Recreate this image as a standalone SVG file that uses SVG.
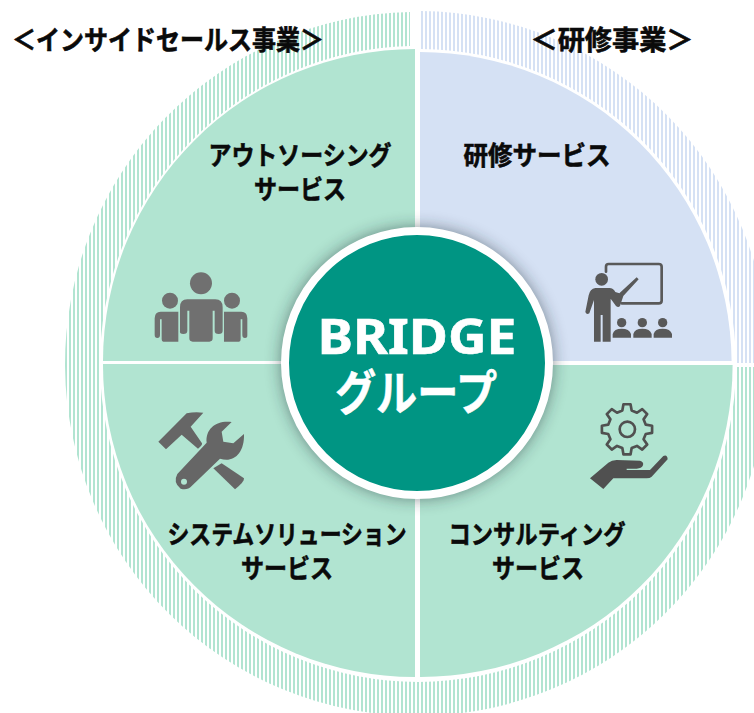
<svg xmlns="http://www.w3.org/2000/svg" width="754" height="713" viewBox="0 0 754 713">
<style>
text{font-family:"Noto Sans CJK JP","Liberation Sans",sans-serif;font-weight:700;fill:#0a0a0a;stroke:#0a0a0a;stroke-width:.6px}
.lbl{font-size:26px;text-anchor:middle}
.ttl{font-size:27px;text-anchor:middle}
.ctr{fill:#fff;stroke:#fff;text-anchor:middle}
.g{fill:#b1e4d1}.b{fill:#d5e1f4}
.ig{fill:url(#hg)}.ib{fill:url(#hb)}
</style>
<defs>
<pattern id="hg" width="4" height="8" patternUnits="userSpaceOnUse" x="1"><rect width="2" height="8" fill="#b1e4d1"/></pattern>
<pattern id="hb" width="4" height="8" patternUnits="userSpaceOnUse" x="1"><rect width="2" height="8" fill="#d5e1f4"/></pattern>
<filter id="sh" x="-20%" y="-20%" width="140%" height="140%"><feGaussianBlur stdDeviation="8"/></filter>
</defs>
<g id="ring">
<path class="ig" d="M410 12A352 352 0 1 0 769 367H736A318 318 0 1 1 410 46Z"/>
<path class="ib" d="M421 11A352 352 0 0 1 769 363H736A317 317 0 0 0 421 49Z"/>
</g>
<g id="node-outsourcing">
<path class="g" d="M415 49A312 312 0 0 0 103 361H415Z"/>
<text class="lbl" x="300" y="165" textLength="183" lengthAdjust="spacingAndGlyphs">アウトソーシング</text>
<text class="lbl" x="300" y="199" textLength="92" lengthAdjust="spacingAndGlyphs">サービス</text>
<g transform="translate(130 250) scale(.3333)" fill="#707070">
<circle cx="213" cy="100" r="33"/>
<circle cx="120" cy="152" r="24"/>
<circle cx="306" cy="152" r="24"/>
<path d="M172 148H256Q278 148 278 172V242Q278 252 266 252T254 242V182H248V265Q248 275 238 275H188Q178 275 178 265V182H172V242Q172 252 160 252T150 242V172Q150 148 172 148Z"/>
<path d="M92 185H145V275H100Q95 275 95 268V208H90V254Q90 264 82 264T74 254V205Q74 185 92 185Z"/>
<path d="M334 185H282V275H327Q332 275 332 268V208H337V254Q337 264 345 264T352 254V205Q352 185 334 185Z"/>
</g>
</g>
<g id="node-training">
<path class="b" d="M420 52A312 312 0 0 1 731.600 361H420Z"/>
<text class="lbl" x="537" y="165" textLength="147" lengthAdjust="spacingAndGlyphs">研修サービス</text>
<g transform="translate(570 250) scale(.3333)" fill="#595959">
<path d="M108 65V50Q108 42 116 42H266Q275 42 275 50V152Q275 160 266 160H155" fill="none" stroke="#595959" stroke-width="8" stroke-linecap="round"/>
<circle cx="95" cy="88" r="19"/>
<path d="M76 114H118Q130 114 136 126L148 130L200 82L206 88L160 138L150 168Q145 174 138 168L122 146V275H98V195H92V275H72V150L58 190Q50 196 46 186L56 136Q60 116 76 114Z"/>
<circle cx="155" cy="218" r="14"/><circle cx="217" cy="218" r="14"/><circle cx="278" cy="218" r="14"/>
<path d="M128 263V252Q132 236 155 236T183 252V263Z"/><path d="M190 263V252Q194 236 217 236T245 252V263Z"/><path d="M251 263V252Q255 236 278 236T306 252V263Z"/>
</g>
</g>
<g id="node-consulting">
<path class="g" d="M420 365H732.600A312 312 0 0 1 420 677Z"/>
<text class="lbl" x="537" y="544" textLength="177" lengthAdjust="spacingAndGlyphs">コンサルティング</text>
<text class="lbl" x="538" y="578" textLength="92" lengthAdjust="spacingAndGlyphs">サービス</text>
<g transform="translate(570 390) scale(.3333)" fill="#505050">
<path transform="translate(171 118)" fill="none" stroke="#505050" stroke-width="8" stroke-linejoin="round" d="M-10.600-75.300L10.600-75.300L14-56.300L29.900-49.700L45.700-60.700L60.700-45.700L49.700-29.900L56.300-14L75.300-10.600L75.300 10.600L56.300 14L49.700 29.900L60.700 45.700L45.700 60.700L29.900 49.700L14 56.300L10.600 75.300L-10.600 75.300L-14 56.300L-29.900 49.700L-45.700 60.700L-60.700 45.700L-49.700 29.900L-56.300 14L-75.300 10.600L-75.300-10.600L-56.300-14L-49.700-29.900L-60.700-45.700L-45.700-60.700L-29.900-49.700L-14-56.300Z"/>
<circle cx="172" cy="118" r="23" fill="none" stroke="#505050" stroke-width="8"/>
<path d="M60 265L115 218Q125 210 140 210L210 212Q222 215 219 226Q215 236 200 236H170V240H240L280 198Q292 193 293 208L245 260Q240 265 230 265H130L100 297Z"/>
</g>
</g>
<g id="node-system">
<path class="g" d="M103 364H415V677A312 312 0 0 1 103 364Z"/>
<text class="lbl" x="287" y="544" textLength="239" lengthAdjust="spacingAndGlyphs">システムソリューション</text>
<text class="lbl" x="287" y="578" textLength="92" lengthAdjust="spacingAndGlyphs">サービス</text>
<g transform="translate(140 400) scale(.3333)" fill="#666">
<path d="M55 125L140 40Q165 34 190 38L152 80L186 130Q188 136 174 146L125 104L78 148Z"/>
<path d="M220 205L245 190L312 235Q314 245 285 268Z"/>
<path fill-rule="evenodd" d="M275 66C230 60 196 85 200 128L112 222Q98 248 122 266Q142 272 155 258L240 176C280 190 314 160 312 102L280 130L250 125L245 95ZM132 236A9 9 0 1 0 132 254A9 9 0 1 0 132 236Z"/>
</g>
</g>
<g id="node-center">
<circle cx="417" cy="363" r="136" fill="#1f2a30" opacity=".5" filter="url(#sh)"/>
<circle cx="417" cy="363" r="132" fill="#009583" stroke="#fff" stroke-width="8"/>
<text class="ctr" x="417" y="354" font-size="48" textLength="199" lengthAdjust="spacingAndGlyphs" style="font-family:'Noto Sans',sans-serif">BRIDGE</text>
<text class="ctr" x="416" y="410" font-size="48" textLength="162" lengthAdjust="spacingAndGlyphs">グループ</text>
</g>
<g id="titles">
<text class="ttl" x="168" y="50" textLength="312" lengthAdjust="spacingAndGlyphs">＜インサイドセールス事業＞</text>
<text class="ttl" x="612" y="50" textLength="163" lengthAdjust="spacingAndGlyphs">＜研修事業＞</text>
</g>
</svg>
